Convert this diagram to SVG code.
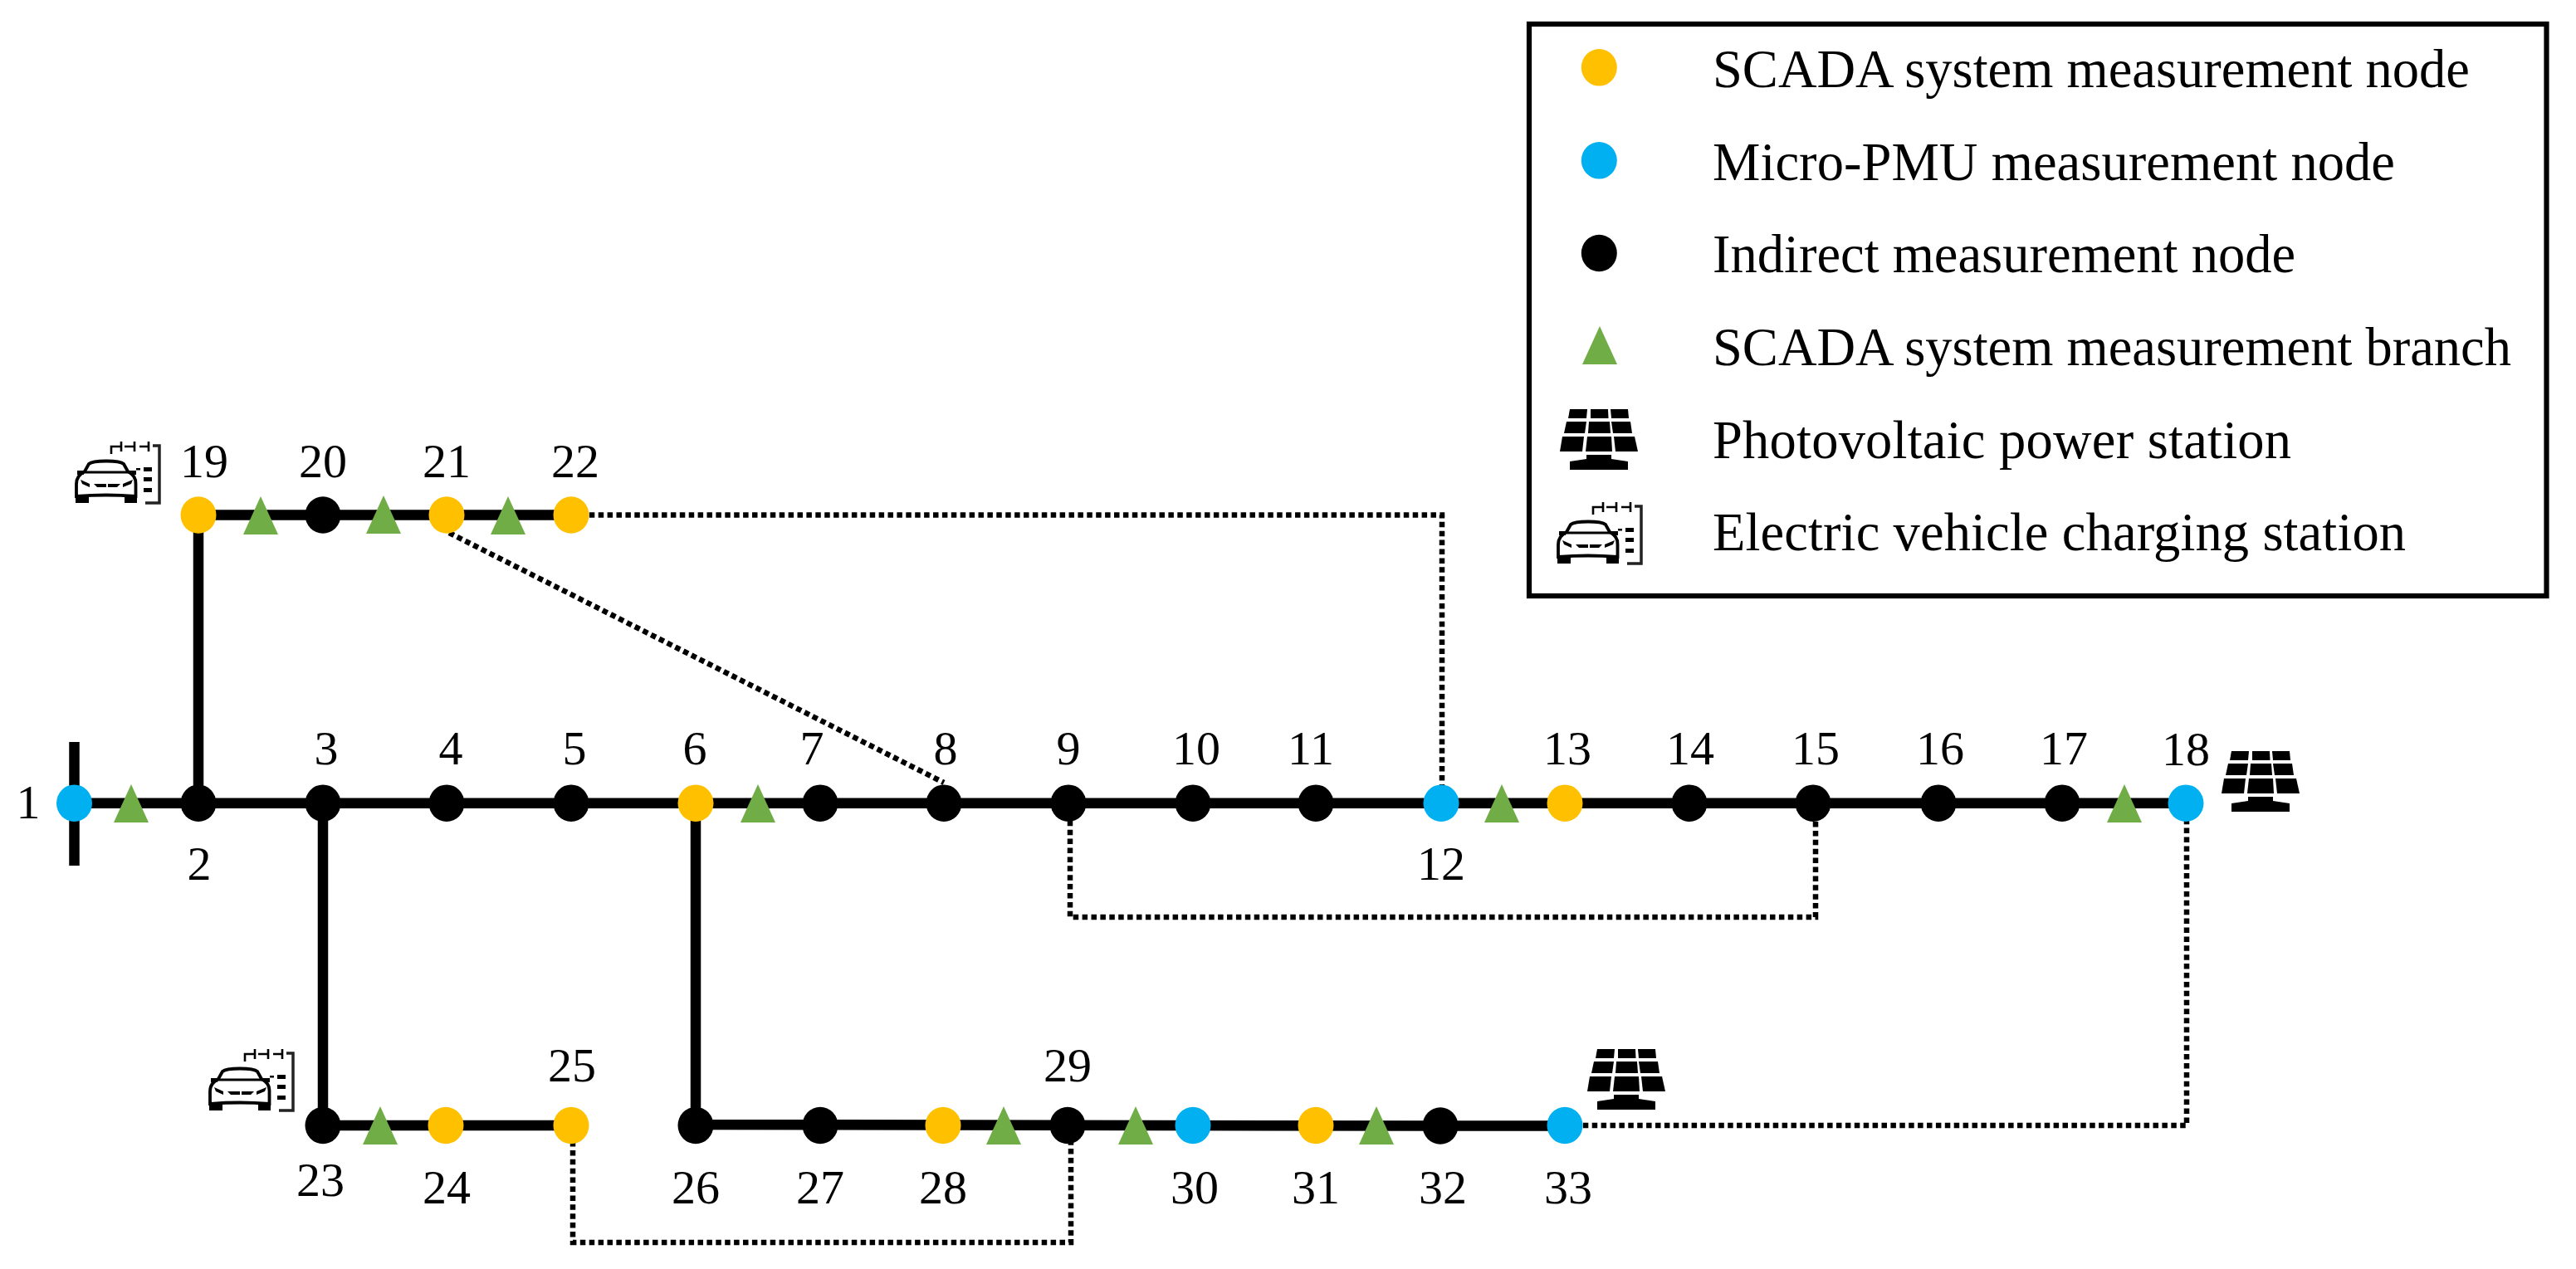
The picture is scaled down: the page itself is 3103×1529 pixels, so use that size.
<svg xmlns="http://www.w3.org/2000/svg" width="3103" height="1529" viewBox="0 0 3103 1529">
<style>
text{font-family:"Liberation Serif","Times New Roman",serif;fill:#000}
.n{font-size:58px;text-anchor:middle}
.l{font-size:64.5px}
.s{fill:#FFC000}.m{fill:#00B0F0}.i{fill:#000}.t{fill:#70AD47}
.line{fill:none;stroke:#000;stroke-width:12.5}
.dot{fill:none;stroke:#000;stroke-width:6.5;stroke-dasharray:6.5 4.4}
</style>
<defs>
<ellipse id="c" rx="21.500" ry="22.300"/>
<polygon id="tri" points="0,-23 21,23 -21,23"/>
<symbol id="pv" viewBox="0 0 95 73" overflow="visible">
<g fill="#000">
<polygon points="12,0 33,0 32,11 10,11"/><polygon points="37,0 58,0 58.500,11 37,11"/><polygon points="61,0 82,0 83,11 62,11"/>
<polygon points="8,15 32,15 30,29 5,29"/><polygon points="35,15 60,15 61,29 34,29"/><polygon points="62,15 85,15 87,29 64,29"/>
<polygon points="3,33 29,33 27,51 0,51"/><polygon points="33,33 62,33 63,51 31,51"/><polygon points="65,33 90,33 94,51 67,51"/>
<polygon points="32,55 62,55 62,60 82,63 82,73 12,73 12,63 32,60"/>
</g>
</symbol>
<symbol id="car" viewBox="0 0 104 76" overflow="visible">
<g fill="none" stroke="#000" stroke-width="3.800">
<path d="M12 37L17 28Q21 24.500 38 24.500Q55 24.500 59 28L64 37Q74 42 73.500 52V67Q38 64 2 67V52Q2 42 12 37Z"/>
<path d="M11 38H65" stroke-width="3"/>
</g>
<g fill="none" stroke="#000" stroke-width="2.600">
<path d="M44 16V7H56M56 1V13M60 7H72M72 1V13M78 7H89M89 1V13"/>
</g>
<path d="M94 6H102V75H85" fill="none" stroke="#222" stroke-width="3.500"/>
<g fill="#000">
<rect x="3" y="36" width="8" height="5"/><rect x="66" y="36" width="8" height="5"/>
<path d="M7 47L18 52V56L9 52Z"/><path d="M70 47L58 52V56L68 52Z"/>
<path d="M23 52H38V56H27Z"/><path d="M40 52H55L51 56H40Z"/>
<rect x="1" y="66" width="16" height="9"/><rect x="60" y="66" width="15" height="9"/>
<rect x="83" y="32" width="10" height="5"/><rect x="83" y="44" width="10" height="5"/><rect x="83" y="57" width="10" height="5"/>
<rect x="74" y="33" width="5" height="2.500"/>
</g>
</symbol>
</defs>
<rect width="3103" height="1529" fill="#fff"/>
<g id="connectors">
<path class="line" d="M89.500 894V1043"/>
<path class="line" d="M89 967.700H2633"/>
<path class="line" d="M239 620.500H688M239 620.500V967"/>
<path class="line" d="M389 967V1356H688"/>
<path class="line" d="M838 967V1355L1738 1356.500H1885"/>
<path class="dot" d="M688 620.500H1737V967"/>
<path class="dot" d="M541 642L1137 943"/>
<path class="dot" d="M1289 967V1105H2187V967"/>
<path class="dot" d="M690 1375V1497H1290V1356"/>
<path class="dot" d="M1885 1356H2634V967"/>
</g>
<g id="branch-markers">
<use href="#tri" class="t" x="158" y="968"/><use href="#tri" class="t" x="913" y="968"/><use href="#tri" class="t" x="1809" y="968"/><use href="#tri" class="t" x="2559" y="968"/>
<use href="#tri" class="t" x="314" y="621"/><use href="#tri" class="t" x="462" y="620"/><use href="#tri" class="t" x="612" y="621"/>
<use href="#tri" class="t" x="458" y="1356"/><use href="#tri" class="t" x="1209" y="1356"/><use href="#tri" class="t" x="1368" y="1356"/><use href="#tri" class="t" x="1658" y="1356"/>
</g>
<g id="node-1"><use href="#c" class="m" x="89.500" y="967.700"/><text class="n" x="34" y="986">1</text></g>
<g id="node-2"><use href="#c" class="i" x="239" y="967.700"/><text class="n" x="240" y="1060">2</text></g>
<g id="node-3"><use href="#c" class="i" x="389" y="967.700"/><text class="n" x="393" y="921">3</text></g>
<g id="node-4"><use href="#c" class="i" x="538" y="967.700"/><text class="n" x="543" y="921">4</text></g>
<g id="node-5"><use href="#c" class="i" x="688" y="967.700"/><text class="n" x="692" y="921">5</text></g>
<g id="node-6"><use href="#c" class="s" x="838" y="967.700"/><text class="n" x="837" y="921">6</text></g>
<g id="node-7"><use href="#c" class="i" x="988" y="967.700"/><text class="n" x="978" y="921">7</text></g>
<g id="node-8"><use href="#c" class="i" x="1137" y="967.700"/><text class="n" x="1139" y="921">8</text></g>
<g id="node-9"><use href="#c" class="i" x="1287" y="967.700"/><text class="n" x="1287" y="921">9</text></g>
<g id="node-10"><use href="#c" class="i" x="1437" y="967.700"/><text class="n" x="1441" y="921">10</text></g>
<g id="node-11"><use href="#c" class="i" x="1585" y="967.700"/><text class="n" x="1579" y="921">11</text></g>
<g id="node-12"><use href="#c" class="m" x="1736" y="967.700"/><text class="n" x="1736" y="1060">12</text></g>
<g id="node-13"><use href="#c" class="s" x="1885" y="967.700"/><text class="n" x="1888" y="921">13</text></g>
<g id="node-14"><use href="#c" class="i" x="2035" y="967.700"/><text class="n" x="2036" y="921">14</text></g>
<g id="node-15"><use href="#c" class="i" x="2184" y="967.700"/><text class="n" x="2187" y="921">15</text></g>
<g id="node-16"><use href="#c" class="i" x="2335" y="967.700"/><text class="n" x="2337" y="921">16</text></g>
<g id="node-17"><use href="#c" class="i" x="2484" y="967.700"/><text class="n" x="2486" y="921">17</text></g>
<g id="node-18"><use href="#c" class="m" x="2633" y="967.700"/><text class="n" x="2633" y="922">18</text><use href="#pv" x="2676" y="905" width="95" height="73"/></g>
<g id="node-19"><use href="#c" class="s" x="239" y="620.500"/><text class="n" x="246" y="575">19</text><use href="#car" x="90" y="531" width="104" height="76"/></g>
<g id="node-20"><use href="#c" class="i" x="389" y="620.500"/><text class="n" x="389" y="575">20</text></g>
<g id="node-21"><use href="#c" class="s" x="538" y="620.500"/><text class="n" x="538" y="575">21</text></g>
<g id="node-22"><use href="#c" class="s" x="688" y="620.500"/><text class="n" x="693" y="575">22</text></g>
<g id="node-23"><use href="#c" class="i" x="389" y="1356"/><text class="n" x="386" y="1441">23</text><use href="#car" x="251" y="1263" width="104" height="76"/></g>
<g id="node-24"><use href="#c" class="s" x="537" y="1356"/><text class="n" x="538" y="1450">24</text></g>
<g id="node-25"><use href="#c" class="s" x="688" y="1356"/><text class="n" x="689" y="1303">25</text></g>
<g id="node-26"><use href="#c" class="i" x="838" y="1356"/><text class="n" x="838" y="1450">26</text></g>
<g id="node-27"><use href="#c" class="i" x="988" y="1356"/><text class="n" x="988" y="1450">27</text></g>
<g id="node-28"><use href="#c" class="s" x="1136" y="1356"/><text class="n" x="1136" y="1450">28</text></g>
<g id="node-29"><use href="#c" class="i" x="1286" y="1356"/><text class="n" x="1286" y="1303">29</text></g>
<g id="node-30"><use href="#c" class="m" x="1437" y="1356"/><text class="n" x="1439" y="1450">30</text></g>
<g id="node-31"><use href="#c" class="s" x="1585" y="1356"/><text class="n" x="1585" y="1450">31</text></g>
<g id="node-32"><use href="#c" class="i" x="1735" y="1356.500"/><text class="n" x="1738" y="1450">32</text></g>
<g id="node-33"><use href="#c" class="m" x="1885" y="1356"/><text class="n" x="1889" y="1450">33</text><use href="#pv" x="1912" y="1264" width="95" height="73"/></g>
<g id="legend">
<rect x="1842" y="29" width="1225.500" height="689" fill="#fff" stroke="#000" stroke-width="6.200"/>
<use href="#c" class="s" x="1926.300" y="81.300"/><text class="l" x="2063" y="105">SCADA system measurement node</text>
<use href="#c" class="m" x="1926.300" y="193.300"/><text class="l" x="2063" y="217" textLength="822">Micro-PMU measurement node</text>
<use href="#c" class="i" x="1926.300" y="305"/><text class="l" x="2063" y="328">Indirect measurement node</text>
<use href="#tri" class="t" x="1927" y="416"/><text class="l" x="2063" y="440">SCADA system measurement branch</text>
<use href="#pv" x="1879" y="493" width="95" height="73"/><text class="l" x="2063" y="552" textLength="697">Photovoltaic power station</text>
<use href="#car" x="1875" y="604" width="104" height="76"/><text class="l" x="2063" y="663" textLength="835">Electric vehicle charging station</text>
</g>
</svg>
